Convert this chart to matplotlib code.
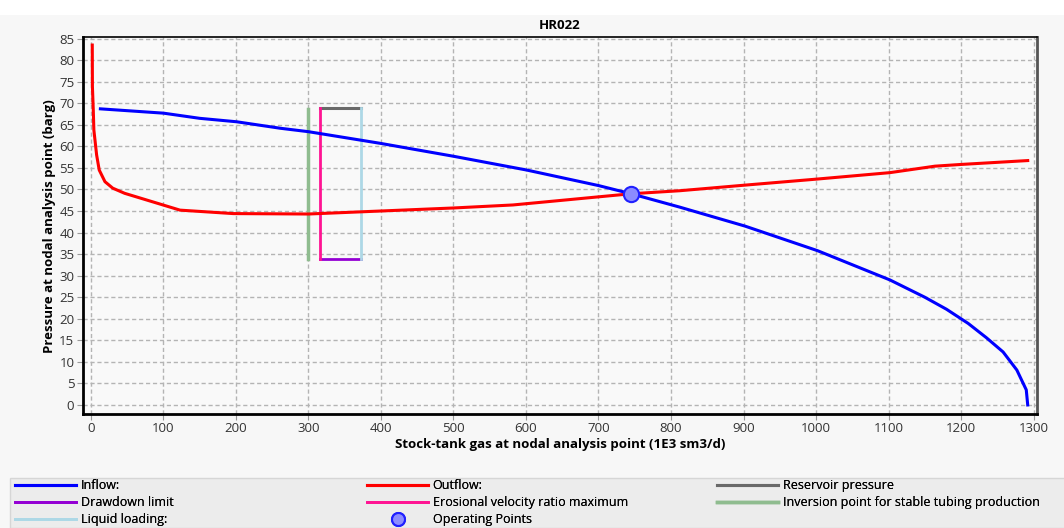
import matplotlib
matplotlib.use("Agg")
import matplotlib.pyplot as plt
from matplotlib.patches import Rectangle

# Inflow (IPR) curve
inflow_q = [13, 100, 150, 201, 261, 300, 399, 500, 601, 700, 745, 812, 902, 1002, 1102, 1150, 1180, 1210, 1235, 1258, 1277, 1290, 1292]
inflow_p = [68.7, 67.7, 66.5, 65.7, 64.2, 63.4, 60.7, 57.7, 54.5, 50.9, 49.0, 45.9, 41.5, 35.8, 29.0, 25.0, 22.2, 18.9, 15.6, 12.3, 8.1, 3.5, 0.0]

# Outflow (VLP) curve
outflow_q = [1.8, 2.0, 3.2, 4.0, 7.8, 11.4, 19.3, 30, 46.5, 122.8, 196, 300, 400, 500, 582, 745, 812, 902, 1001, 1102, 1164, 1200, 1292]
outflow_p = [83.5, 73.9, 68.4, 63.8, 58.0, 54.5, 51.8, 50.3, 49.1, 45.2, 44.4, 44.3, 45.0, 45.7, 46.4, 49.0, 49.7, 51.0, 52.4, 53.9, 55.4, 55.8, 56.7]

# constraint lines
inversion_q = [299, 299]
inversion_p = [33.8, 68.7]
erosional_q = [316, 316]
erosional_p = [33.8, 68.8]
liquid_q = [373, 373]
liquid_p = [33.8, 68.8]
reservoir_q = [316, 373]
reservoir_p = [68.8, 68.8]
drawdown_q = [316, 373]
drawdown_p = [33.8, 33.8]

op_q = [745]
op_p = [49.0]

plt.rcParams['font.family'] = ['Open Sans', 'DejaVu Sans']

fig = plt.figure(figsize=(10.64, 5.28), dpi=100, facecolor='#f7f7f7')
fig.patches.append(Rectangle((0, 1 - 15 / 528), 1, 15 / 528, transform=fig.transFigure,
                             facecolor='white', edgecolor='none', zorder=-1))
# legend panel
fig.patches.append(Rectangle((10 / 1064, 0), 1, 50 / 528, transform=fig.transFigure,
                             facecolor='#ececec', edgecolor='#d6d6d6', lw=1, zorder=0))

ax = fig.add_axes([82.7 / 1064, 1 - 414 / 528, (1037 - 82.7) / 1064, (414 - 37.3) / 528])
ax.set_facecolor('#f9f9f9')

h_in, = ax.plot(inflow_q, inflow_p, color='#0000ff', lw=2.2, label='Inflow:', zorder=4)
h_out, = ax.plot(outflow_q, outflow_p, color='#ff0000', lw=2.2, label='Outflow:', zorder=4)
h_inv, = ax.plot(inversion_q, inversion_p, color='#8fbc8f', lw=2.5, label='Inversion point for stable tubing production', zorder=3)
h_res, = ax.plot(reservoir_q, reservoir_p, color='#696969', lw=2.2, label='Reservoir pressure', zorder=3)
h_dd, = ax.plot(drawdown_q, drawdown_p, color='#9400d3', lw=2, label='Drawdown limit', zorder=3)
h_ero, = ax.plot(erosional_q, erosional_p, color='#ff1493', lw=2, label='Erosional velocity ratio maximum', zorder=3)
h_liq, = ax.plot(liquid_q, liquid_p, color='#add8e6', lw=2, label='Liquid loading:', zorder=3)
h_op, = ax.plot(op_q, op_p, 'o', ms=11, mfc='#8c8cff', mec='#2020ff', mew=1.5,
                linestyle='none', label='Operating Points', zorder=5)

ax.set_xlim(-11.4, 1304.8)
ax.set_ylim(-2.1, 85.3)
ax.set_xticks(range(0, 1301, 100))
ax.set_yticks(range(0, 86, 5))
ax.grid(True, linestyle=(0, (3, 2)), color='#b4b4b4', lw=1)
ax.set_axisbelow(True)

ax.tick_params(direction='out', length=4, color='#999999', labelsize=9.5, labelcolor='#333333', pad=2)
for side in ['left', 'bottom', 'top']:
    ax.spines[side].set_color('black')
ax.spines['left'].set_linewidth(2)
ax.spines['bottom'].set_linewidth(2)
ax.spines['top'].set_linewidth(1.2)
ax.spines['right'].set_color('#555555')
ax.spines['right'].set_linewidth(2)

ax.set_title('HR022', fontsize=9.5, fontweight='bold', pad=6)
ax.set_xlabel('Stock-tank gas at nodal analysis point (1E3 sm3/d)', fontsize=9.5, fontweight='bold', labelpad=2)
ax.set_ylabel('Pressure at nodal analysis point (barg)', fontsize=9.5, fontweight='bold', labelpad=2)

# legend: three columns placed side by side
columns = [(15, [h_in, h_dd, h_liq]), (367, [h_out, h_ero, h_op]), (717, [h_res, h_inv])]
for x0, hs in columns:
    lg = fig.legend(handles=hs, loc='upper left', bbox_to_anchor=(x0 / 1064, 49 / 528),
                    fontsize=9, frameon=False, handlelength=4.9, handletextpad=0.35,
                    labelspacing=0.32, borderaxespad=0, borderpad=0, markerscale=0.85)
    fig.add_artist(lg)

fig.savefig('out.png', dpi=100, facecolor=fig.get_facecolor())
